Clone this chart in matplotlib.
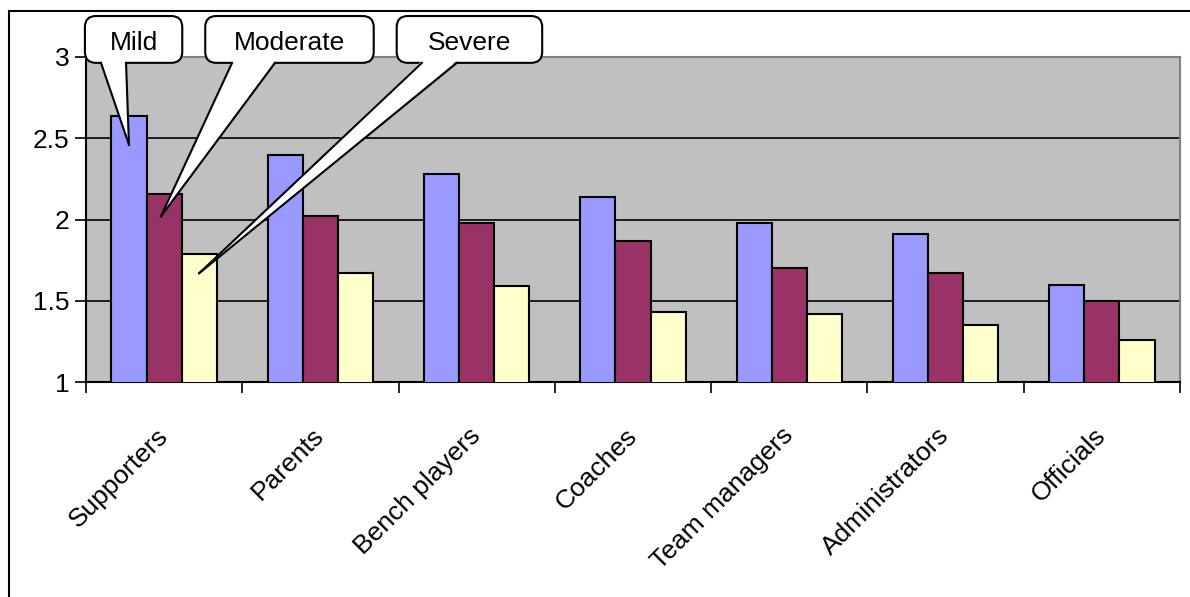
import numpy as np
import matplotlib
matplotlib.use("Agg")
import matplotlib.pyplot as plt
from matplotlib.patches import FancyBboxPatch, Polygon, Rectangle
from matplotlib.lines import Line2D
from matplotlib.transforms import IdentityTransform

# --------------------------------------------------------------------------------
# DATA
# --------------------------------------------------------------------------------
categories = ["Supporters", "Parents", "Bench players", "Coaches",
              "Team managers", "Administrators", "Officials"]
series_names = ["Mild", "Moderate", "Severe"]
mild = [2.64, 2.40, 2.28, 2.14, 1.98, 1.91, 1.60]
moderate = [2.16, 2.02, 1.98, 1.87, 1.70, 1.67, 1.50]
severe = [1.79, 1.67, 1.59, 1.43, 1.42, 1.35, 1.26]
y_ticks = [1, 1.5, 2, 2.5, 3]
y_tick_labels = ["1", "1.5", "2", "2.5", "3"]

# --------------------------------------------------------------------------------
# STYLE
# --------------------------------------------------------------------------------
colors = ["#9999FF", "#993366", "#FFFFCC"]
plot_bg = "#C0C0C0"
font = "Liberation Sans"
fsize = 19
bar_w = 0.225

plt.rcParams['font.family'] = [font, 'DejaVu Sans']

fig = plt.figure(figsize=(11.9, 5.97), dpi=100)
fig.patch.set_facecolor("white")

# outer chart frame (only left and top edges fall inside the image)
fig.add_artist(Rectangle((9 / 1190, -0.2), 1.5, 1.2 - 11 / 597,
                         transform=fig.transFigure, fill=False,
                         edgecolor="black", linewidth=1.5, zorder=0))

ax = fig.add_axes([86 / 1190, (597 - 382) / 597, 1094 / 1190, 325 / 597])
ax.set_facecolor(plot_bg)

x = np.arange(len(categories))
all_series = [mild, moderate, severe]
for k, vals in enumerate(all_series):
    ax.bar(x + (k - 1) * bar_w, vals, width=bar_w, color=colors[k],
           edgecolor="black", linewidth=1.5, zorder=3)

ax.set_xlim(-0.5, len(categories) - 0.5)
ax.set_ylim(1, 3)

# gridlines
for t in y_ticks[1:-1]:
    ax.axhline(t, color="black", linewidth=1.2, zorder=1)

# y axis
ax.set_yticks(y_ticks)
ax.set_yticklabels(y_tick_labels, fontsize=fsize)
ax.tick_params(axis="y", direction="out", length=8, width=1.2, pad=4)

# x axis: boundary ticks + centred rotated labels
ax.set_xticks(np.arange(len(categories) + 1) - 0.5)
ax.set_xticklabels([])
ax.tick_params(axis="x", which="major", direction="out", length=8, width=1.2)
ax.set_xticks(x, minor=True)
ax.set_xticklabels(categories, minor=True, fontsize=fsize, rotation=45,
                   ha="right", va="center", rotation_mode="anchor")
ax.tick_params(axis="x", which="minor", length=0, pad=36)

for side in ["left", "bottom"]:
    ax.spines[side].set_color("black")
    ax.spines[side].set_linewidth(1.5)
for side in ["top", "right"]:
    ax.spines[side].set_color("#808080")
    ax.spines[side].set_linewidth(1.5)

# --------------------------------------------------------------------------------
# CALLOUTS (series labels pointing at the first group of bars)
# --------------------------------------------------------------------------------
fig.canvas.draw()

# box extents (axes fraction) and pointer base on the box bottom
box_x = [(-0.001, 0.088), (0.109, 0.263), (0.284, 0.417)]
box_y = (0.982, 1.126)
base_x = [(0.0137, 0.0366), (0.1335, 0.1728), (0.307, 0.339)]
tip_drop = [0.18, 0.14, 0.12]
tip_dx = [0.0, -0.02, 0.0]

for k, name in enumerate(series_names):
    (x0, y0) = ax.transAxes.transform((box_x[k][0], box_y[0]))
    (x1, y1) = ax.transAxes.transform((box_x[k][1], box_y[1]))
    box = FancyBboxPatch((x0, y0), x1 - x0, y1 - y0,
                         boxstyle="round,pad=0,rounding_size=11",
                         transform=IdentityTransform(), facecolor="white",
                         edgecolor="black", linewidth=1.5, zorder=5)
    fig.add_artist(box)

    bx0, by = ax.transAxes.transform((base_x[k][0], box_y[0]))
    bx1, _ = ax.transAxes.transform((base_x[k][1], box_y[0]))
    tx, ty = ax.transData.transform((x[0] + (k - 1) * bar_w + tip_dx[k],
                                     all_series[k][0] - tip_drop[k]))
    fig.add_artist(Polygon([(bx0, by + 2), (bx1, by + 2), (tx, ty)],
                           closed=True, transform=IdentityTransform(),
                           facecolor="white", edgecolor="none", zorder=6))
    for bx in (bx0, bx1):
        fig.add_artist(Line2D([bx, tx], [by, ty], transform=IdentityTransform(),
                              color="black", linewidth=1.5, zorder=7))

    fig.text((x0 + x1) / 2, (y0 + y1) / 2 - 4, name,
             transform=IdentityTransform(),
             ha="center", va="center", fontsize=fsize, zorder=8)

fig.savefig("out.png", dpi=100)
